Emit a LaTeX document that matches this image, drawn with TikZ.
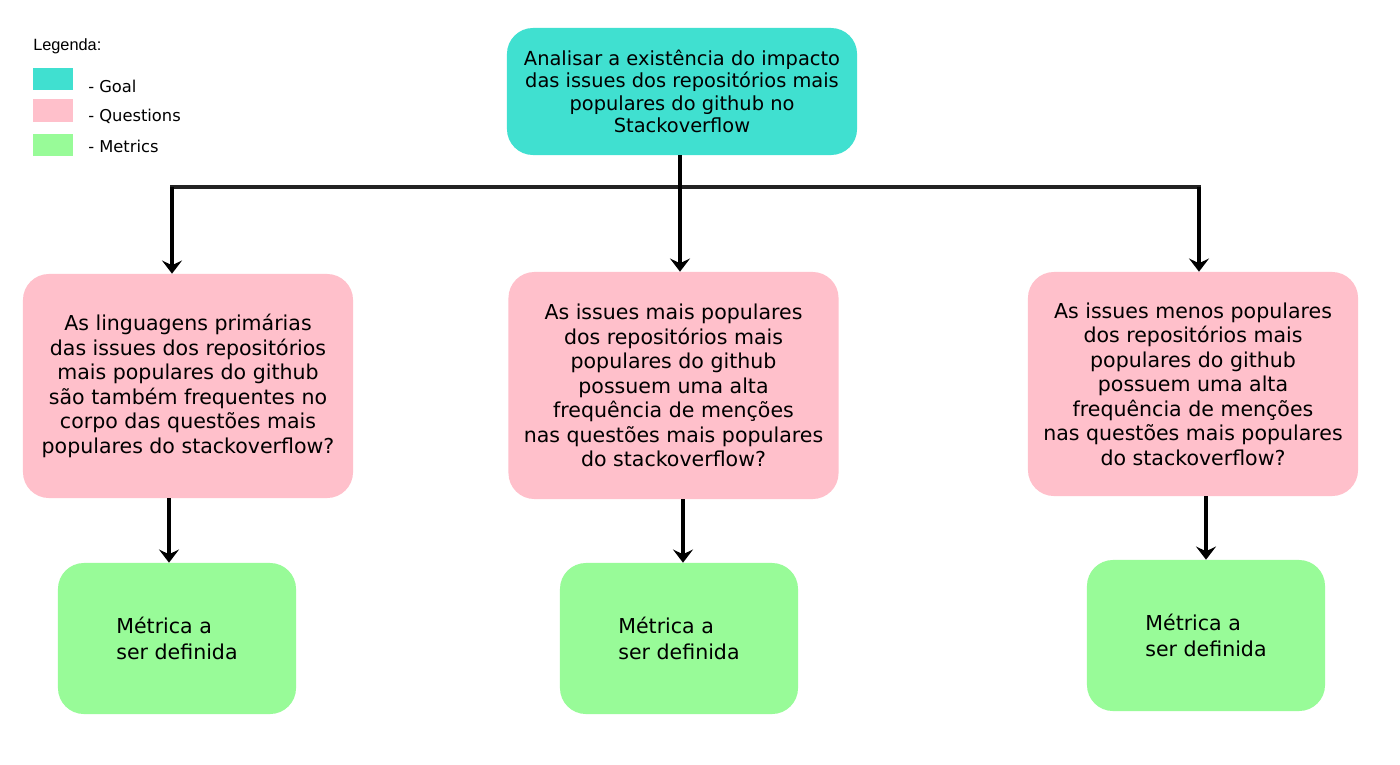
\documentclass[tikz,border=0pt]{standalone}
\usepackage{fontspec}
\setmainfont{DejaVu Sans}
\newfontfamily\legfont{Liberation Sans}
\usetikzlibrary{arrows.meta}
\definecolor{goalcol}{HTML}{40E0D0}
\definecolor{questcol}{HTML}{FFC0CB}
\definecolor{metcol}{HTML}{98FB98}
\definecolor{barcol}{HTML}{222222}
\tikzset{
  goalbox/.style={fill=goalcol, rounded corners=0.65cm, align=center, inner sep=0pt,
    minimum width=8.75cm, minimum height=3.175cm, font=\fontsize{13.8}{15.9}\selectfont},
  questbox/.style={fill=questcol, rounded corners=0.65cm, align=center, inner sep=0pt,
    minimum width=8.25cm, minimum height=5.6cm, font=\fontsize{14.6}{17.4}\selectfont},
  metbox/.style={fill=metcol, rounded corners=0.65cm, align=left, inner sep=0pt,
    minimum width=5.95cm, minimum height=3.775cm, font=\fontsize{14.6}{18.4}\selectfont},
  swatch/.style={minimum width=1cm, minimum height=0.56cm, inner sep=0pt},
  leglabel/.style={anchor=west, inner sep=0pt, font=\fontsize{11.6}{13}\selectfont},
  bus/.style={draw=barcol, line width=2.8pt},
  arr/.style={draw=black, line width=3pt, -{Stealth[length=0.33cm, width=0.5cm, inset=0.12cm]}}
}
\begin{document}
\begin{tikzpicture}[x=0.025cm, y=-0.025cm]
		\useasboundingbox[fill=white] (0, 0) rectangle (1400, 764);
		\node(leg)[anchor=west, inner sep=0pt, font=\legfont\fontsize{11.6}{13}\selectfont] at (33, 46) {Legenda:};
		\node(sgoal)[swatch, fill=goalcol] at (53, 79) {};
		\node(squest)[swatch, fill=questcol] at (53, 110.5) {};
		\node(smet)[swatch, fill=metcol] at (53, 145) {};
		\node(lgoal)[leglabel] at (88, 86) {- Goal};
		\node(lquest)[leglabel] at (88, 116) {- Questions};
		\node(lmet)[leglabel] at (88, 146) {- Metrics};
		\node(goal)[goalbox] at (682, 91.5) {Analisar a existência do impacto\\das issues dos repositórios mais\\populares do github no\\Stackoverflow};
		\node(q1)[questbox] at (188, 386) {As linguagens primárias\\das issues dos repositórios\\mais populares do github\\são também frequentes no\\corpo das questões mais\\populares do stackoverflow?};
		\node(q2)[questbox, minimum height=5.675cm] at (673.5, 385.5) {As issues mais populares\\dos repositórios mais\\populares do github\\possuem uma alta\\frequência de menções\\nas questões mais populares\\do stackoverflow?};
		\node(q3)[questbox] at (1193, 384) {As issues menos populares\\dos repositórios mais\\populares do github\\possuem uma alta\\frequência de menções\\nas questões mais populares\\do stackoverflow?};
		\node(m1)[metbox] at (177, 638.5) {Métrica a\\ser definida};
		\node(m2)[metbox] at (679, 638.5) {Métrica a\\ser definida};
		\node(m3)[metbox] at (1206, 635.5) {Métrica a\\ser definida};
		\coordinate(hl) at (172, 187);
		\coordinate(hr) at (1199, 187);
		\coordinate(gs) at (680, 155);
		\draw[bus] ([xshift=-1.4pt]hl) -- ([xshift=1.4pt]hr);
		\draw[arr] (gs) -- (gs |- q2.north);
		\draw[arr] (hl) -- (hl |- q1.north);
		\draw[arr] (hr) -- (hr |- q3.north);
		\draw[arr] ([xshift=-0.2cm]m1.north |- q1.south) -- ([xshift=-0.2cm]m1.north);
		\draw[arr] ([xshift=0.1cm]m2.north |- q2.south) -- ([xshift=0.1cm]m2.north);
		\draw[arr] (m3.north |- q3.south) -- (m3.north);
\end{tikzpicture}
\end{document}
